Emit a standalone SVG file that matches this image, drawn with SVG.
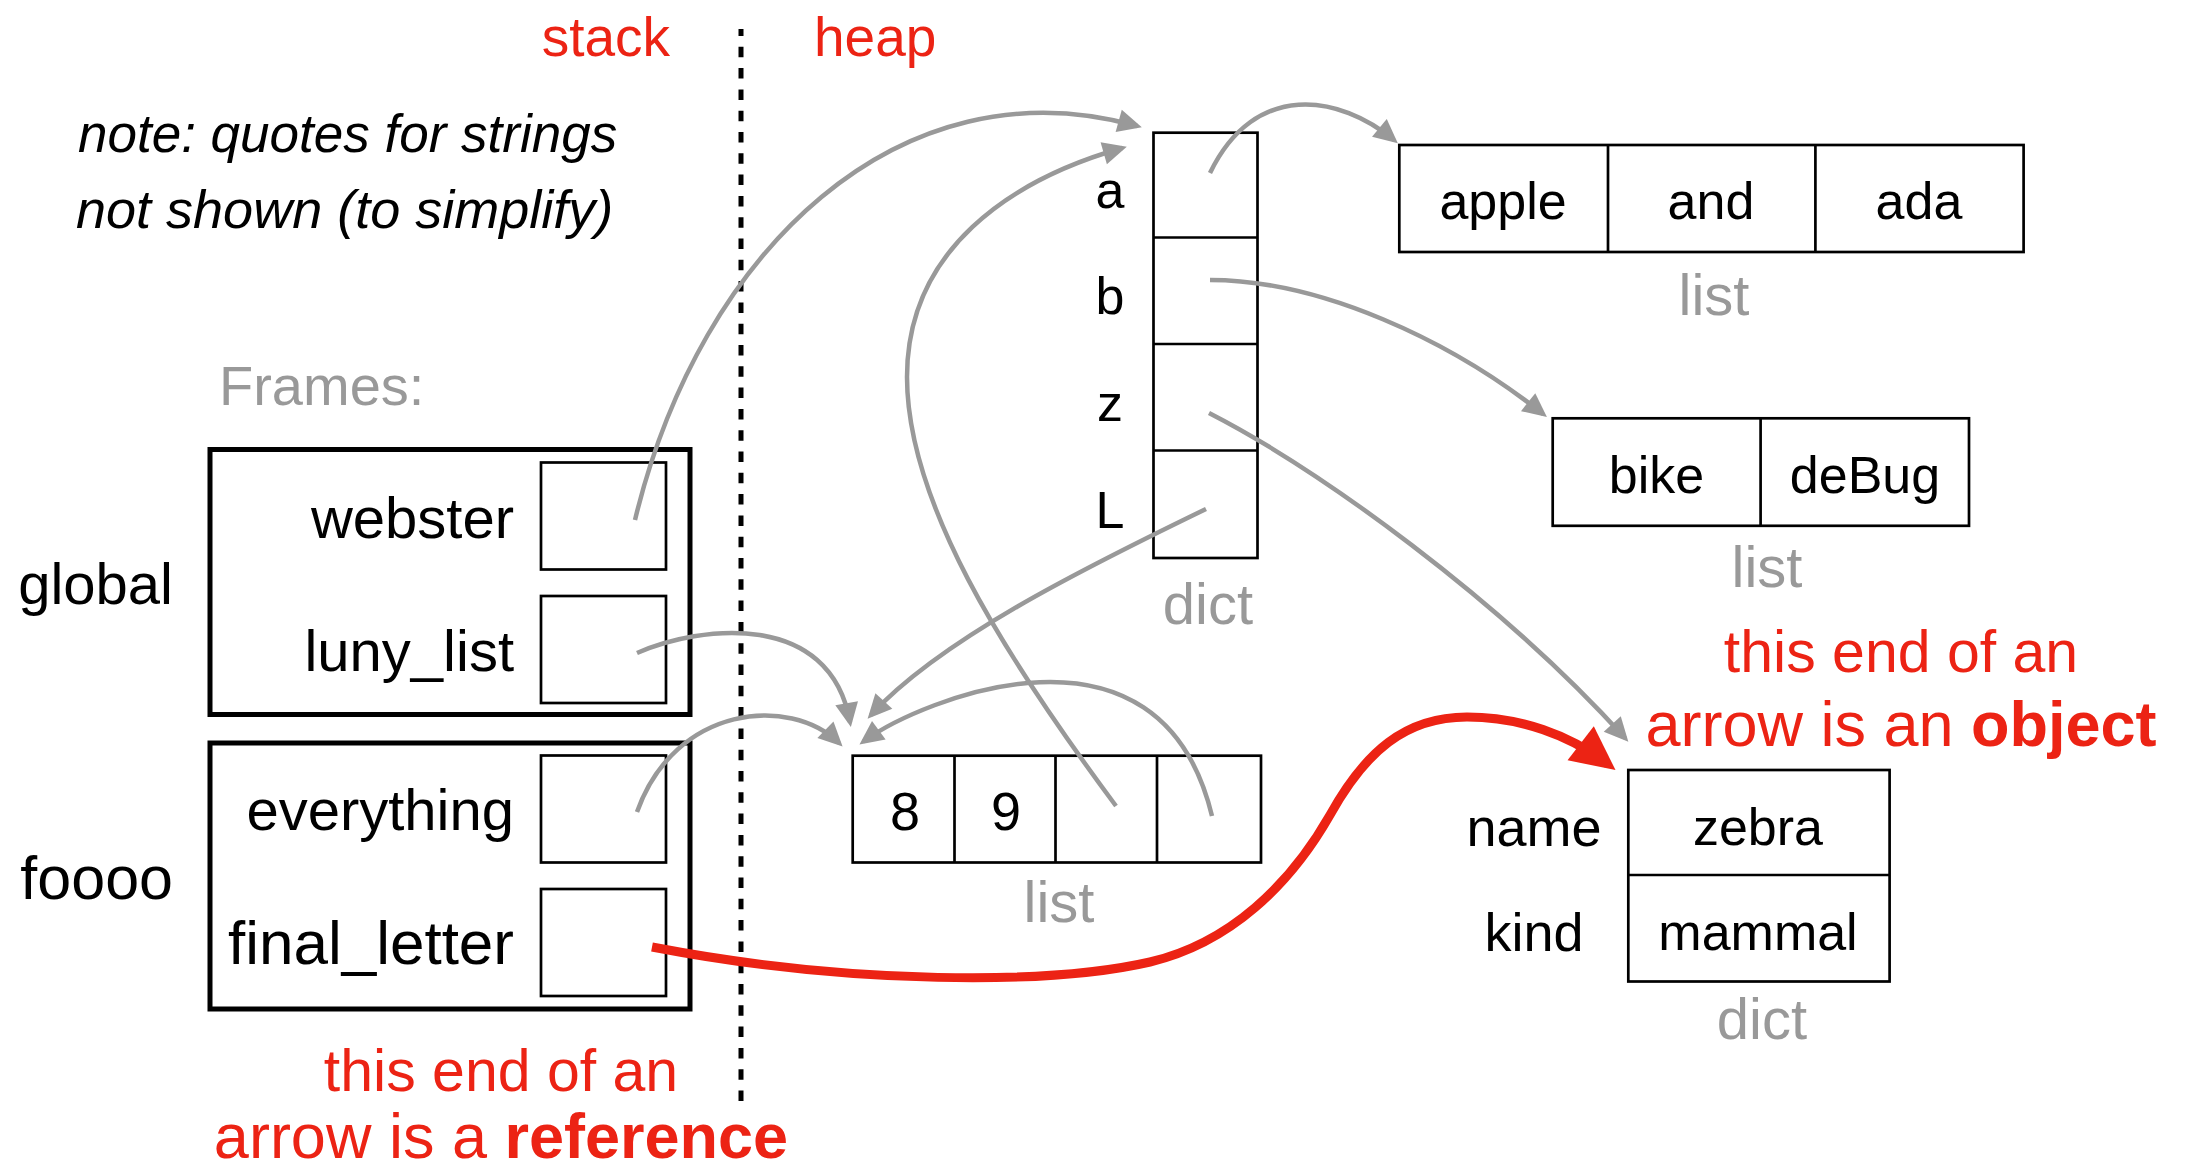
<svg xmlns="http://www.w3.org/2000/svg" width="2188" height="1168" viewBox="0 0 2188 1168">
<style>
text{font-family:"Liberation Sans",Arial,sans-serif;fill:#000}
.lbl{font-size:58px}
.val{font-size:52px;text-anchor:middle}
.key{font-size:52px;text-anchor:middle}
.typ{font-size:58px;text-anchor:middle;fill:#999}
.red{fill:#EC2314;font-size:63px}
.note{font-size:53px;font-style:italic}
.frame{fill:none;stroke:#000;stroke-width:5}
.cell{fill:none;stroke:#000;stroke-width:2.7}
.ref{fill:none;stroke:#999;stroke-width:4.5}
.big{fill:none;stroke:#EC2314;stroke-width:9}
</style>
<defs>
<marker id="ah" markerUnits="userSpaceOnUse" viewBox="0 0 24 23" markerWidth="24" markerHeight="23" refX="19" refY="11.5" orient="auto" overflow="visible"><path d="M0,0 L24,11.5 L0,23 z" fill="#999"/></marker>
<marker id="ahr" markerUnits="userSpaceOnUse" viewBox="0 0 44 43" markerWidth="44" markerHeight="43" refX="34" refY="21.5" orient="auto" overflow="visible"><path d="M0,0 L44,21.5 L0,43 z" fill="#EC2314"/></marker>
</defs>
<rect width="2188" height="1168" fill="#fff"/>

<g id="titles">
<text class="red" x="670" y="56" style="font-size:55px" text-anchor="end">stack</text>
<text class="red" x="814" y="56" style="font-size:55px">heap</text>
<line x1="741" y1="29" x2="741" y2="1101" stroke="#000" stroke-width="5" stroke-dasharray="10.5 10.8" stroke-dashoffset="3.5"/>
<text class="note" x="78" y="152">note: quotes for strings</text>
<text class="note" x="76" y="228" style="font-size:54px">not shown (to simplify)</text>
<text x="219" y="405" style="font-size:56px;fill:#999">Frames:</text>
</g>

<g id="frame-global">
<rect class="frame" x="210" y="449.5" width="480" height="265"/>
<text class="lbl" x="173" y="604" text-anchor="end">global</text>
<text class="lbl" x="514" y="538" text-anchor="end">webster</text>
<rect class="cell" x="541" y="462.5" width="125" height="107"/>
<text class="lbl" x="514" y="671" text-anchor="end">luny_list</text>
<rect class="cell" x="541" y="596" width="125" height="107"/>
</g>

<g id="frame-foooo">
<rect class="frame" x="210" y="743" width="480" height="266"/>
<text class="lbl" x="173" y="899" text-anchor="end" style="font-size:61px">foooo</text>
<text class="lbl" x="514" y="830" text-anchor="end">everything</text>
<rect class="cell" x="541" y="755.5" width="125" height="107"/>
<text class="lbl" x="514" y="964" text-anchor="end" style="font-size:62px">final_letter</text>
<rect class="cell" x="541" y="889" width="125" height="107"/>
</g>

<g id="dict-main">
<rect class="cell" x="1153.5" y="132.7" width="104" height="425.3"/>
<line class="cell" x1="1153.5" y1="237.5" x2="1257.5" y2="237.5"/>
<line class="cell" x1="1153.5" y1="344" x2="1257.5" y2="344"/>
<line class="cell" x1="1153.5" y1="450.5" x2="1257.5" y2="450.5"/>
<text class="key" x="1110" y="208">a</text>
<text class="key" x="1110" y="314">b</text>
<text class="key" x="1110" y="421">z</text>
<text class="key" x="1110" y="528">L</text>
<text class="typ" x="1208" y="624">dict</text>
</g>

<g id="list-apple">
<rect class="cell" x="1399.3" y="145" width="624.3" height="107"/>
<line class="cell" x1="1608" y1="145" x2="1608" y2="252"/>
<line class="cell" x1="1815.4" y1="145" x2="1815.4" y2="252"/>
<text class="val" x="1503" y="219">apple</text>
<text class="val" x="1711" y="219">and</text>
<text class="val" x="1919" y="219">ada</text>
<text class="typ" x="1714" y="315">list</text>
</g>

<g id="list-bike">
<rect class="cell" x="1552.7" y="418.3" width="416.3" height="107.5"/>
<line class="cell" x1="1760.6" y1="418.3" x2="1760.6" y2="525.8"/>
<text class="val" x="1656.5" y="493">bike</text>
<text class="val" x="1865" y="493">deBug</text>
<text class="typ" x="1767" y="587">list</text>
</g>

<g id="list-89">
<rect class="cell" x="852.7" y="755.7" width="408.3" height="106.8"/>
<line class="cell" x1="954.5" y1="755.7" x2="954.5" y2="862.5"/>
<line class="cell" x1="1055.5" y1="755.7" x2="1055.5" y2="862.5"/>
<line class="cell" x1="1157" y1="755.7" x2="1157" y2="862.5"/>
<text class="val" x="905" y="830" style="font-size:54px">8</text>
<text class="val" x="1006" y="830" style="font-size:54px">9</text>
<text class="typ" x="1059" y="922">list</text>
</g>

<g id="dict-zebra">
<rect class="cell" x="1628.3" y="770" width="261.3" height="211.5"/>
<line class="cell" x1="1628.3" y1="875" x2="1889.6" y2="875"/>
<text class="key" x="1534" y="846" style="font-size:54px">name</text>
<text class="key" x="1534" y="951" style="font-size:54px">kind</text>
<text class="val" x="1758" y="845">zebra</text>
<text class="val" x="1758" y="950">mammal</text>
<text class="typ" x="1762" y="1039">dict</text>
</g>

<g id="callouts">
<text class="red" x="501" y="1091" text-anchor="middle" style="font-size:59px">this end of an</text>
<text class="red" x="501" y="1158" text-anchor="middle">arrow is a <tspan font-weight="bold">reference</tspan></text>
<text class="red" x="1901" y="672" text-anchor="middle" style="font-size:59px">this end of an</text>
<text class="red" x="1901" y="746" text-anchor="middle">arrow is an <tspan font-weight="bold">object</tspan></text>
</g>

<g id="connectors">
<path class="ref" marker-end="url(#ah)" d="M635,520 C700,250 900,60 1137,126"/>
<path class="ref" marker-end="url(#ah)" d="M1210,173 C1255,80 1340,95 1394,140"/>
<path class="ref" marker-end="url(#ah)" d="M1210,280 C1320,280 1450,340 1543,414"/>
<path class="ref" marker-end="url(#ah)" d="M1209,413 C1320,470 1500,600 1625,738"/>
<path class="ref" marker-end="url(#ah)" d="M1206,509 C1080,570 940,640 871,715"/>
<path class="ref" marker-end="url(#ah)" d="M637,653 C700,625 830,610 850,722"/>
<path class="ref" marker-end="url(#ah)" d="M637,812 C675,705 790,695 839,743"/>
<path class="ref" marker-end="url(#ah)" d="M1116,806 C1000,650 907,500 907,377 C907,250 1010,180 1122,148"/>
<path class="ref" marker-end="url(#ah)" d="M1212,816 C1160,600 920,700 863.5,741.5"/>
<path class="big" marker-end="url(#ahr)" d="M652,947 C850,985 1050,985 1150,962 C1230,943 1290,885 1330,815 C1365,752 1405,717 1467,717 C1520,717 1570,735 1607.6,764"/>
</g>
</svg>
